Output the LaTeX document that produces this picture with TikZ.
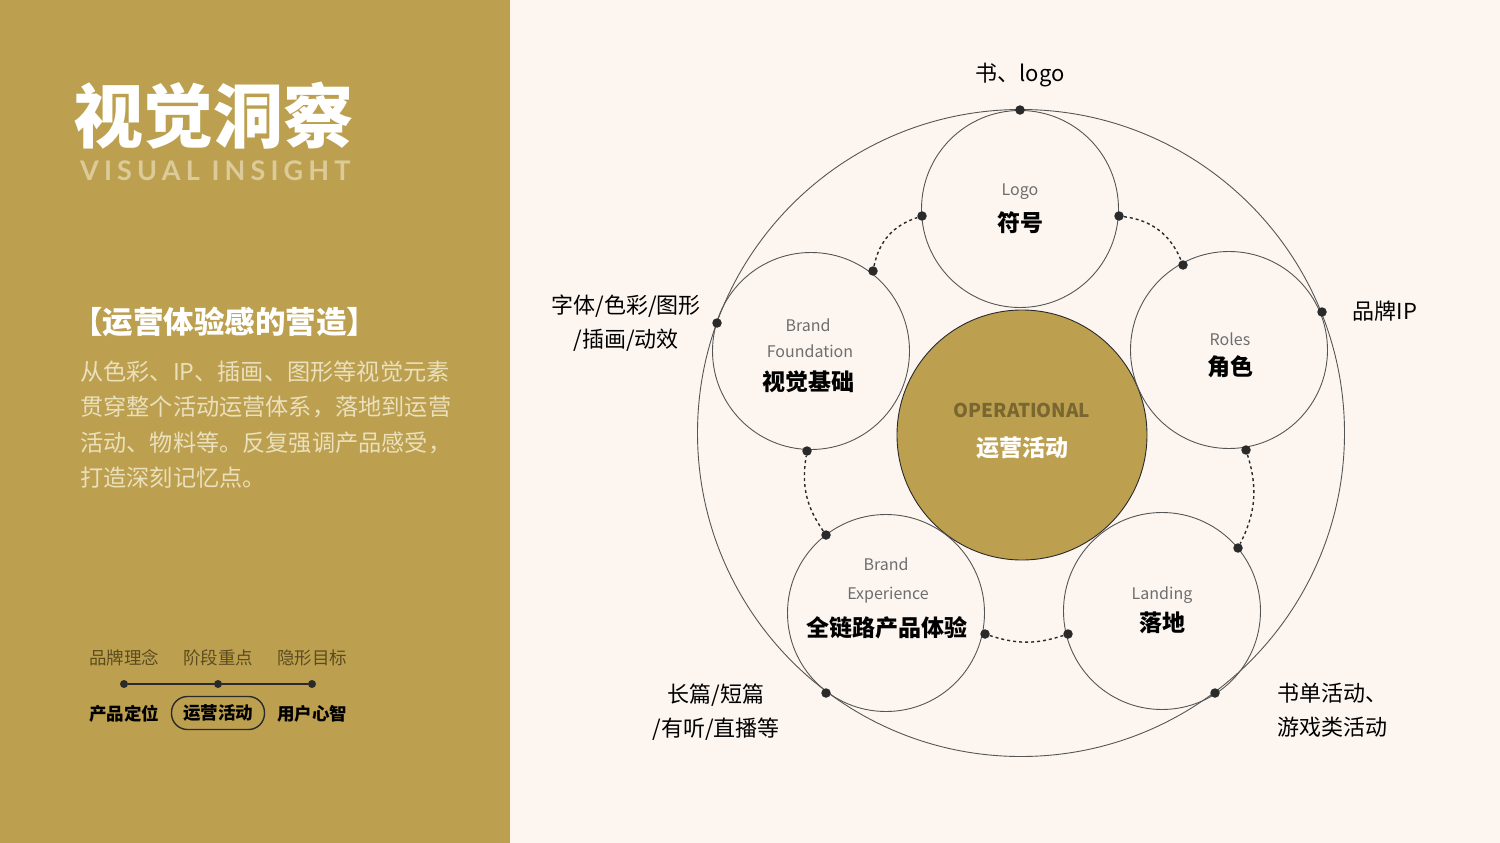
\documentclass[tikz,border=0pt]{standalone}
\usepackage{fontspec}
\setmainfont{Noto Sans CJK SC}
\newfontfamily\latosp{Lato}[LetterSpace=19]
\definecolor{goldc}{HTML}{BCA050}
\definecolor{bgc}{HTML}{FDF6F0}
\definecolor{ringc}{HTML}{555555}
\definecolor{dotc}{HTML}{2A2A2A}
\definecolor{greyc}{HTML}{6E6E6E}
\definecolor{insc}{HTML}{DCCB98}
\definecolor{bodyc}{HTML}{EBE0BC}
\definecolor{brownc}{HTML}{5C4B1E}
\definecolor{opc}{HTML}{7A6630}
\begin{document}
\begin{tikzpicture}[x=1pt,y=-1pt,
  ring/.style={circle,draw=ringc,line width=0.9pt,minimum size=197pt,inner sep=0pt},
  dotn/.style={circle,fill=dotc,inner sep=0pt,minimum size=9.5pt},
  dline/.style={draw=dotc,line width=1.4pt,dash pattern=on 3pt off 3pt},
  en/.style={text=greyc,font=\fontsize{16}{20}\selectfont,inner sep=0pt},
  zh/.style={font=\bfseries\fontsize{23}{28}\selectfont,inner sep=0pt},
  lab/.style={font=\fontsize{22}{34}\selectfont,inner sep=0pt},
  toplab/.style={text=brownc,font=\fontsize{17.5}{20}\selectfont,inner sep=0pt},
  botlab/.style={font=\bfseries\fontsize{17.5}{20}\selectfont,inner sep=0pt},
  bodyt/.style={text=bodyc,font=\fontsize{23.2}{35.5}\selectfont,inner sep=0pt,anchor=base west}
]
\useasboundingbox (0,0) rectangle (1500,843);
\fill[bgc] (0,0) rectangle (1500,843);
\fill[goldc] (0,0) rectangle (510,843);

% left panel
\node[text=white,font=\bfseries\fontsize{70}{72}\selectfont,inner sep=0pt,anchor=west] (title) at (73,116) {视觉洞察};
\node[text=insc,font=\latosp\bfseries\fontsize{27}{30}\selectfont,inner sep=0pt,anchor=west] (sub) at (80,171) {VISUAL INSIGHT};
\node[text=white,font=\bfseries\fontsize{30.5}{34}\selectfont,inner sep=0pt,anchor=west] (head) at (72,322) {【运营体验感的营造】};
\node[bodyt] (b1) at (80,380) {从色彩、IP、插画、图形等视觉元素};
\node[bodyt] (b2) at (80,415.5) {贯穿整个活动运营体系，落地到运营};
\node[bodyt] (b3) at (80,451) {活动、物料等。反复强调产品感受，};
\node[bodyt] (b4) at (80,486.5) {打造深刻记忆点。};

\node[toplab] (p1) at (124,658) {品牌理念};
\node[toplab] (p2) at (218,658) {阶段重点};
\node[toplab] (p3) at (312,658) {隐形目标};
\node[dotn,minimum size=8pt] (t1) at (124,684) {};
\node[dotn,minimum size=8pt] (t2) at (218,684) {};
\node[dotn,minimum size=8pt] (t3) at (312,684) {};
\draw[dotc,line width=1.6pt] (t1) -- (t2) -- (t3);
\node[botlab] (q1) at (124,714) {产品定位};
\node[botlab,draw=dotc,line width=1.4pt,rounded corners=16pt,minimum width=93pt,minimum height=33pt] (q2) at (218,713) {运营活动};
\node[botlab] (q3) at (312,714) {用户心智};

% diagram
\node[circle,draw=ringc,line width=0.9pt,minimum size=647pt,inner sep=0pt] (outer) at (1021,433) {};
\node[circle,draw=dotc,line width=0.9pt,fill=goldc,minimum size=250pt,inner sep=0pt] (core) at (1022,435) {};
\node[ring] (logo) at (1020,209) {};
\node[ring] (found) at (811,351) {};
\node[ring] (roles) at (1229,350) {};
\node[ring] (exper) at (886,613) {};
\node[ring] (land) at (1162,611) {};

\node[text=opc,font=\bfseries\fontsize{19}{22}\selectfont,inner sep=0pt] (opt) at (1022,410) {OPERATIONAL};
\node[zh,text=white] (opz) at (1022,448) {运营活动};

\node[en] (logoe) at (1020,192) {Logo};
\node[zh] (logoz) at (1020,223) {符号};
\node[en] (founde1) at (808,325) {Brand};
\node[en] (founde2) at (810,351) {Foundation};
\node[zh] (foundz) at (808,382) {视觉基础};
\node[en] (rolese) at (1230,339) {Roles};
\node[zh] (rolesz) at (1230,367) {角色};
\node[en] (expere1) at (886,564) {Brand};
\node[en] (expere2) at (888,595) {Experience};
\node[zh] (experz) at (887,628) {全链路产品体验};
\node[en] (lande) at (1162,595) {Landing};
\node[zh] (landz) at (1162,623) {落地};

% dots
\node[dotn] (d0) at (1020,110) {};
\node[dotn] (d1) at (922,216) {};
\node[dotn] (d2) at (873,271) {};
\node[dotn] (d3) at (1119,216) {};
\node[dotn] (d4) at (1183,265) {};
\node[dotn] (d5) at (717,323) {};
\node[dotn] (d6) at (1322,312) {};
\node[dotn] (d7) at (807,451) {};
\node[dotn] (d8) at (826,535) {};
\node[dotn] (d9) at (1246,450) {};
\node[dotn] (d10) at (1238,548) {};
\node[dotn] (d11) at (985,634) {};
\node[dotn] (d12) at (1068,634) {};
\node[dotn] (d13) at (826,693) {};
\node[dotn] (d14) at (1215,693) {};

\draw[dline] (d2) to[bend left=30] (d1);
\draw[dline] (d3) to[bend left=30] (d4);
\draw[dline] (d9) to[bend left=22] (d10);
\draw[dline] (d12) to[bend left=18] (d11);
\draw[dline] (d8) to[bend left=22] (d7);

% outer labels
\node[lab] (l0) at (1020,75) {书、logo};
\node[lab,align=center] (l1) at (626,323) {字体/色彩/图形\\/插画/动效};
\node[lab] (l2) at (1385,311) {品牌IP};
\node[lab,align=center] (l3) at (716,712) {长篇/短篇\\/有听/直播等};
\node[lab,align=left,anchor=west] (l4) at (1277,710) {书单活动、\\游戏类活动};
\end{tikzpicture}
\end{document}
